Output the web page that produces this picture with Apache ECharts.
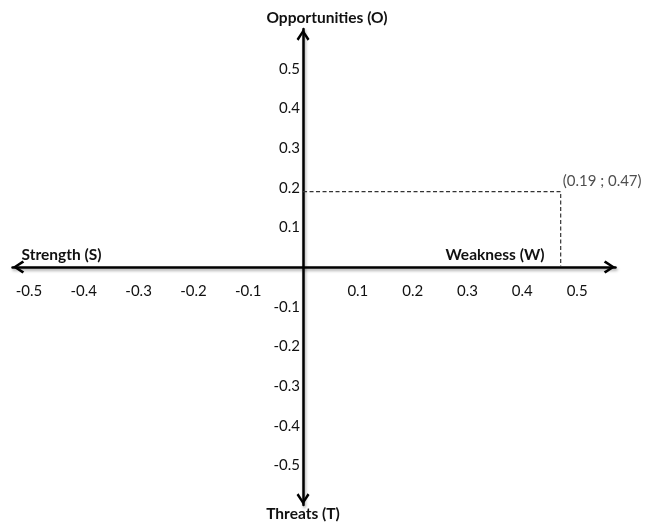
<!DOCTYPE html>
<html>
<head>
<meta charset="utf-8">
<script src="https://cdn.jsdelivr.net/npm/echarts@6/dist/echarts.min.js"></script>
<style>
  html, body { margin: 0; padding: 0; background: #ffffff; }
  #chart { width: 645px; height: 524px; }
</style>
</head>
<body>
<div id="chart"></div>
<script>
// ---- data ----
const xTickValues = [-0.5, -0.4, -0.3, -0.2, -0.1, 0.1, 0.2, 0.3, 0.4, 0.5];
const xTickLabels = ['-0.5', '-0.4', '-0.3', '-0.2', '-0.1', '0.1', '0.2', '0.3', '0.4', '0.5'];
const yTickValues = [-0.5, -0.4, -0.3, -0.2, -0.1, 0.1, 0.2, 0.3, 0.4, 0.5];
const yTickLabels = ['-0.5', '-0.4', '-0.3', '-0.2', '-0.1', '0.1', '0.2', '0.3', '0.4', '0.5'];
const axisNames = { right: 'Weakness (W)', left: 'Strength (S)', top: 'Opportunities (O)', bottom: 'Threats (T)' };
const xRange = [-0.53, 0.57];
const yRange = [-0.6, 0.6];
const pointX = 0.47;   // Weakness / Strength axis
const pointY = 0.19;   // Opportunities / Threats axis
const pointLabel = '(0.19 ; 0.47)';

// ---- layout ----
const G = { left: 12.5, top: 29, width: 603, height: 476 };
// distance from grid edges to the zero lines (so the axes cross at 0,0)
const xZeroFromLeft = G.width * (0 - xRange[0]) / (xRange[1] - xRange[0]);
const yZeroFromBottom = G.height * (0 - yRange[0]) / (yRange[1] - yRange[0]);

function labelFor(values, labels) {
  return function (v) {
    for (let i = 0; i < values.length; i++) {
      if (Math.abs(values[i] - v) < 1e-6) return labels[i];
    }
    return '';
  };
}
const FONT = 'Lato';
const chevron = 'path://M6,0 L12,9 L10.2,10.6 L6,4 L1.8,10.6 L0,9 Z';
const axisLineMain = {
  show: true,
  onZero: false,
  symbol: [chevron, chevron],
  symbolSize: [13, 12],
  symbolOffset: [6, -6],
  lineStyle: {
    color: '#000000', width: 2.5,
    shadowColor: 'rgba(0,0,0,0.35)', shadowBlur: 3, shadowOffsetX: 1, shadowOffsetY: 2
  }
};
const axisLineHidden = { show: false, onZero: false };
const nameStyle = { fontFamily: FONT, fontWeight: 'bold', fontSize: 15.5, color: '#111111', lineHeight: 16 };

const chart = echarts.init(document.getElementById('chart'), null, { renderer: 'canvas' });
chart.setOption({
  animation: false,
  backgroundColor: '#ffffff',
  grid: { left: G.left, top: G.top, width: G.width, height: G.height, containLabel: false, outerBoundsMode: 'none' },
  xAxis: [
    {
      type: 'value', min: xRange[0], max: xRange[1], splitNumber: 10, minInterval: 0.1, maxInterval: 0.1,
      position: 'bottom', offset: -yZeroFromBottom,
      axisLine: axisLineMain,
      axisTick: { show: false }, splitLine: { show: false },
      axisLabel: {
        show: true, margin: 17, showMinLabel: false, showMaxLabel: false,
        fontFamily: FONT, fontSize: 15, color: '#111111',
        formatter: labelFor(xTickValues, xTickLabels)
      },
      name: axisNames.right, nameLocation: 'end', nameGap: -71,
      nameTextStyle: Object.assign({}, nameStyle, { align: 'right', verticalAlign: 'bottom', padding: [0, 0, 4, 0] })
    },
    {
      type: 'value', min: xRange[0], max: xRange[1], splitNumber: 10, minInterval: 0.1, maxInterval: 0.1,
      position: 'bottom', offset: -yZeroFromBottom,
      axisLine: axisLineHidden,
      axisTick: { show: false }, splitLine: { show: false }, axisLabel: { show: false },
      name: axisNames.left, nameLocation: 'start', nameGap: -9,
      nameTextStyle: Object.assign({}, nameStyle, { align: 'left', verticalAlign: 'bottom', padding: [0, 0, 4, 0] })
    }
  ],
  yAxis: [
    {
      type: 'value', min: yRange[0], max: yRange[1], interval: 0.1,
      position: 'left', offset: -xZeroFromLeft,
      axisLine: axisLineMain,
      axisTick: { show: false }, splitLine: { show: false },
      axisLabel: {
        show: true, margin: 3, showMinLabel: false, showMaxLabel: false,
        fontFamily: FONT, fontSize: 15, color: '#111111',
        formatter: labelFor(yTickValues, yTickLabels)
      },
      name: axisNames.top, nameLocation: 'end', nameGap: 3,
      nameTextStyle: Object.assign({}, nameStyle, { align: 'center', verticalAlign: 'bottom', padding: [0, 0, 0, 48] })
    },
    {
      type: 'value', min: yRange[0], max: yRange[1], interval: 0.1,
      position: 'left', offset: -xZeroFromLeft,
      axisLine: axisLineHidden,
      axisTick: { show: false }, splitLine: { show: false }, axisLabel: { show: false },
      name: axisNames.bottom, nameLocation: 'start', nameGap: 1,
      nameTextStyle: Object.assign({}, nameStyle, { align: 'center', verticalAlign: 'top' })
    }
  ],
  series: [
    {
      type: 'line',
      xAxisIndex: 0, yAxisIndex: 0,
      data: [[0, pointY], [pointX, pointY], [pointX, 0]],
      showSymbol: false,
      symbol: 'none',
      lineStyle: { color: '#333333', width: 1.2, type: [4, 2.5] },
      silent: true,
      z: 1
    },
    {
      type: 'scatter',
      xAxisIndex: 0, yAxisIndex: 0,
      data: [[pointX, pointY]],
      symbolSize: 0,
      label: {
        show: true,
        position: [2, -18],
        formatter: pointLabel,
        fontFamily: FONT, fontSize: 15, color: '#222222'
      },
      silent: true
    }
  ]
});
</script>
</body>
</html>
